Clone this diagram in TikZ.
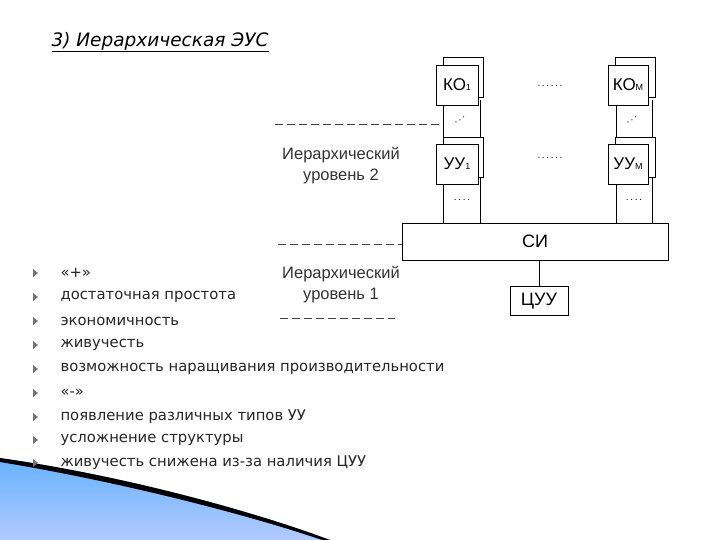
\documentclass[tikz,border=0pt]{standalone}
\usepackage{fontspec}
\setmainfont{Liberation Sans}
\newfontfamily\bul{DejaVu Sans}
\newcommand\bxfont{\fontsize{17}{17}\selectfont}
\begin{document}
\begin{tikzpicture}[x=1pt,y=-1pt,
  bx/.style={draw,fill=white,line width=0.6pt,inner sep=0pt},
  dd/.style={dashed,dash pattern=on 8pt off 4pt,line width=0.8pt,black!75},
  lbl/.style={font=\fontsize{16.5}{21}\selectfont,align=center,text=black!80},
  bt/.style={anchor=west,font=\bul\fontsize{14.8}{16}\selectfont,text=black!85},
  dots/.style={font=\fontsize{10}{10}\selectfont}]
\useasboundingbox (0,0) rectangle (720,540);
\fill[white] (0,0) rectangle (720,540);
\shade[top color=cyan!50!blue!60,bottom color=cyan!30!blue!30] (0,458) .. controls (120,475) and (250,510) .. (330,540) -- (0,540) -- cycle;
\fill[black] (0,458) .. controls (120,475) and (250,510) .. (330,540) -- (322,540) .. controls (240,512) and (110,480) .. (0,462) -- cycle;
\node[anchor=west,font=\bul\itshape\fontsize{18.5}{20}\selectfont] (title) at (48,42) {\underline{3) Иерархическая ЭУС}};
\draw[line width=0.6pt] (443,100) -- (443,224) (480,100) -- (480,224) (616,100) -- (616,224) (652,100) -- (652,224);
\node[bx,minimum width=40,minimum height=40] (ko1b) at (463,77) {};
\node[bx,minimum width=42,minimum height=40] (ko1) at (457,85) {\bxfont КО{\small 1}};
\node[bx,minimum width=40,minimum height=40] (uu1b) at (463,157) {};
\node[bx,minimum width=42,minimum height=40] (uu1) at (457,164) {\bxfont УУ{\small 1}};
\node[bx,minimum width=40,minimum height=40] (komb) at (635,77) {};
\node[bx,minimum width=40,minimum height=40] (kom) at (628,85) {\bxfont КО{\small М}};
\node[bx,minimum width=40,minimum height=40] (uumb) at (635,157) {};
\node[bx,minimum width=40,minimum height=40] (uum) at (628,164) {\bxfont УУ{\small М}};
\foreach \cx in {450,622}{
 \node[dots,rotate=30] at (\cx+10,120) {.\,.\,.};
 \node[dots] at (\cx+12,200) {.\,.\,.\,.};
}
\node[dots] (d1) at (550,86) {.\,.\,.\,.\,.\,.};
\node[dots] (d2) at (550,158) {.\,.\,.\,.\,.\,.};
\node[bx,minimum width=266,minimum height=37] (si) at (535,241.5) {\fontsize{18}{18}\selectfont СИ};
\node[bx,minimum width=58,minimum height=29] (cuu) at (539,301) {\fontsize{18}{18}\selectfont ЦУУ};
\draw[line width=0.6pt] (si.south -| cuu.north) -- (cuu.north);
\coordinate (a1) at (275,124); \coordinate (a2) at (440,124);
\draw[dd] (a1) -- (a2);
\coordinate (b1) at (278,244); \coordinate (b2) at (402,244);
\draw[dd] (b1) -- (b2);
\coordinate (c1) at (280,318); \coordinate (c2) at (395,318);
\draw[dd] (c1) -- (c2);
\node[lbl] (l2) at (341,166) {Иерархический\\уровень 2};
\node[lbl] (l1) at (341,285) {Иерархический\\уровень 1};
\foreach \y/\t in {273/{«+»},297/{достаточная простота},321/{экономичность},345/{живучесть},369/{возможность наращивания производительности},393/{«-»},417/{появление различных типов УУ},440/{усложнение структуры},463/{живучесть снижена из-за наличия ЦУУ}}{
 \fill[black!55] (33,\y-4) -- (38,\y) -- (33,\y+4) -- cycle;
 \node[bt] at (57,\y) {\t};
}
\end{tikzpicture}
\end{document}
